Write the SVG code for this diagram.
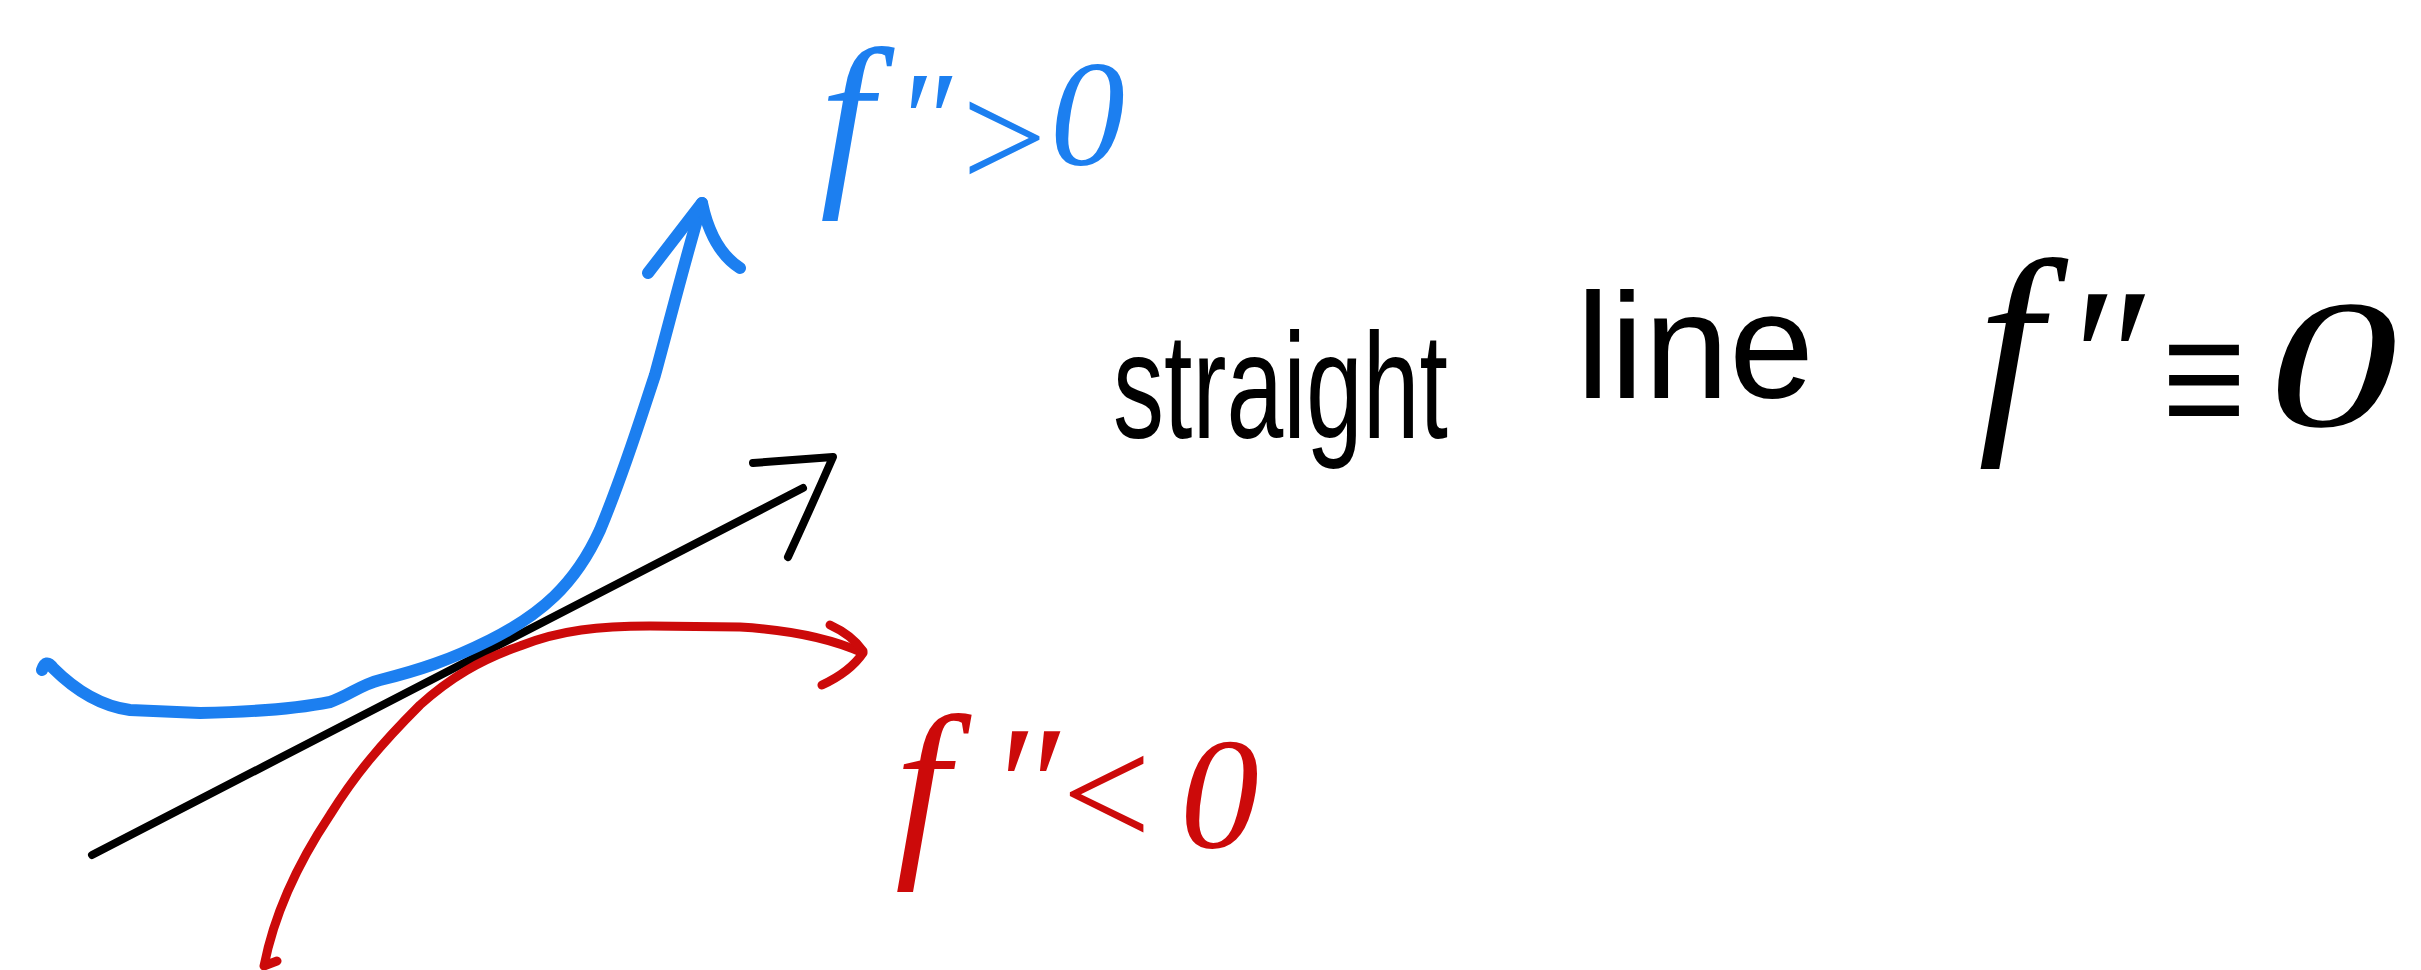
<svg xmlns="http://www.w3.org/2000/svg" width="2421" height="970" viewBox="0 0 2421 970">
  <style>
    .stroke { fill: none; stroke-linecap: round; stroke-linejoin: round; }
    .blue { stroke: #1c7ff0; stroke-width: 12; }
    .black { stroke: #000000; stroke-width: 8; }
    .red { stroke: #cc0a0a; stroke-width: 9; }
    .math { font-family: "Liberation Serif", "DejaVu Serif", serif; font-style: italic; }
    .word { font-family: "Liberation Sans", "DejaVu Sans", sans-serif; }
  </style>
  <rect width="2421" height="970" fill="#ffffff"/>

  <g id="curves">
    <g id="tangent-line">
      <path class="stroke black" d="M92,855 L803,488"/>
      <path class="stroke black" d="M753,463 L833,457 Q812,505 788,557"/>
    </g>
    <g id="concave-curve">
      <path class="stroke red" d="M277,961 L264,966 C275,910 300,860 330,815 C355,775 380,745 420,705 C450,678 480,660 520,646 C560,630 600,626 650,626 L740,627 C790,630 830,638 863,653 Q850,672 822,685"/>
      <path class="stroke red" d="M830,625 Q852,635 863,651"/>
    </g>
    <g id="convex-curve">
      <path class="stroke blue" d="M42,670 Q46,658 53,668 C75,690 100,706 130,710 L200,713 C250,712 300,708 330,702 C350,695 360,685 380,680 C420,670 450,660 490,640 C540,615 575,585 600,530 C625,470 640,420 655,375 C670,320 685,260 702,203"/>
      <path class="stroke blue" d="M648,273 L702,203 Q712,250 740,268"/>
    </g>
  </g>

  <g id="label-positive">
    <text class="math" fill="#1c7ff0" font-size="150"><tspan x="820" y="180" font-size="190">f</tspan><tspan x="895" y="165" font-size="135">″</tspan><tspan x="962" y="188" font-style="normal">&gt;</tspan><tspan x="1050" y="165">0</tspan></text>
  </g>

  <g id="label-negative">
    <text class="math" fill="#cc0a0a" font-size="158"><tspan x="895" y="850" font-size="195">f</tspan><tspan x="988" y="842" font-size="170">″</tspan><tspan x="1062" y="847" font-style="normal">&lt;</tspan><tspan x="1180" y="847">0</tspan></text>
  </g>

  <g id="label-straight">
    <text class="word" x="1113" y="438" font-size="150" textLength="335" lengthAdjust="spacingAndGlyphs">straight</text>
    <text class="word" x="1576" y="398" font-size="150" textLength="238" lengthAdjust="spacingAndGlyphs">line</text>
    <text class="math" font-size="183"><tspan x="1978" y="420" font-size="230">f</tspan><tspan x="2060" y="425" font-size="200">″</tspan></text>
    <text class="math" font-size="150" font-style="normal" transform="translate(2152,450) scale(1,1.4)">≡</text>
    <text class="math" font-size="183" transform="translate(2268,426) scale(1.42,1)">0</text>
  </g>
</svg>
